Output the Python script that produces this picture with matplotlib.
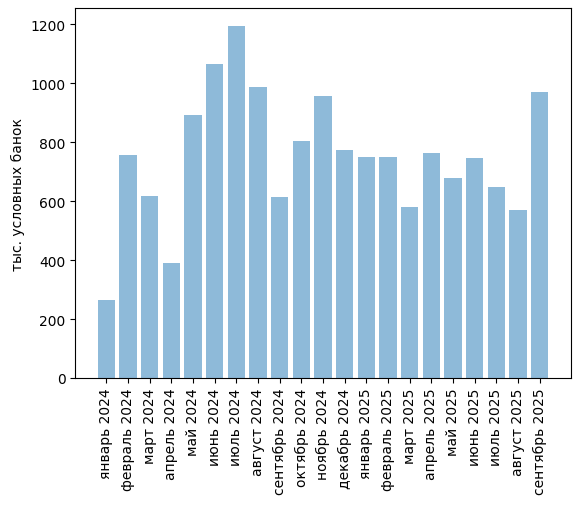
import matplotlib
matplotlib.use("Agg")
import matplotlib.pyplot as plt

months = ["январь 2024", "февраль 2024", "март 2024", "апрель 2024", "май 2024",
          "июнь 2024", "июль 2024", "август 2024", "сентябрь 2024", "октябрь 2024",
          "ноябрь 2024", "декабрь 2024", "январь 2025", "февраль 2025", "март 2025",
          "апрель 2025", "май 2025", "июнь 2025", "июль 2025", "август 2025",
          "сентябрь 2025"]
values = [265, 757, 618, 390, 892, 1065, 1194, 987, 614, 804,
          957, 774, 750, 750, 580, 763, 679, 746, 648, 570, 970]

fig = plt.figure(figsize=(5.8, 5.06), dpi=100)
ax = fig.add_axes([75.3/580, 1-379/506, (571-75.3)/580, (379-9.3)/506])
ax.bar(months, values, alpha=0.5)
ax.set_ylabel("тыс. условных банок")
ax.tick_params(axis='x', rotation=90)
fig.savefig("out.png", dpi=100)
